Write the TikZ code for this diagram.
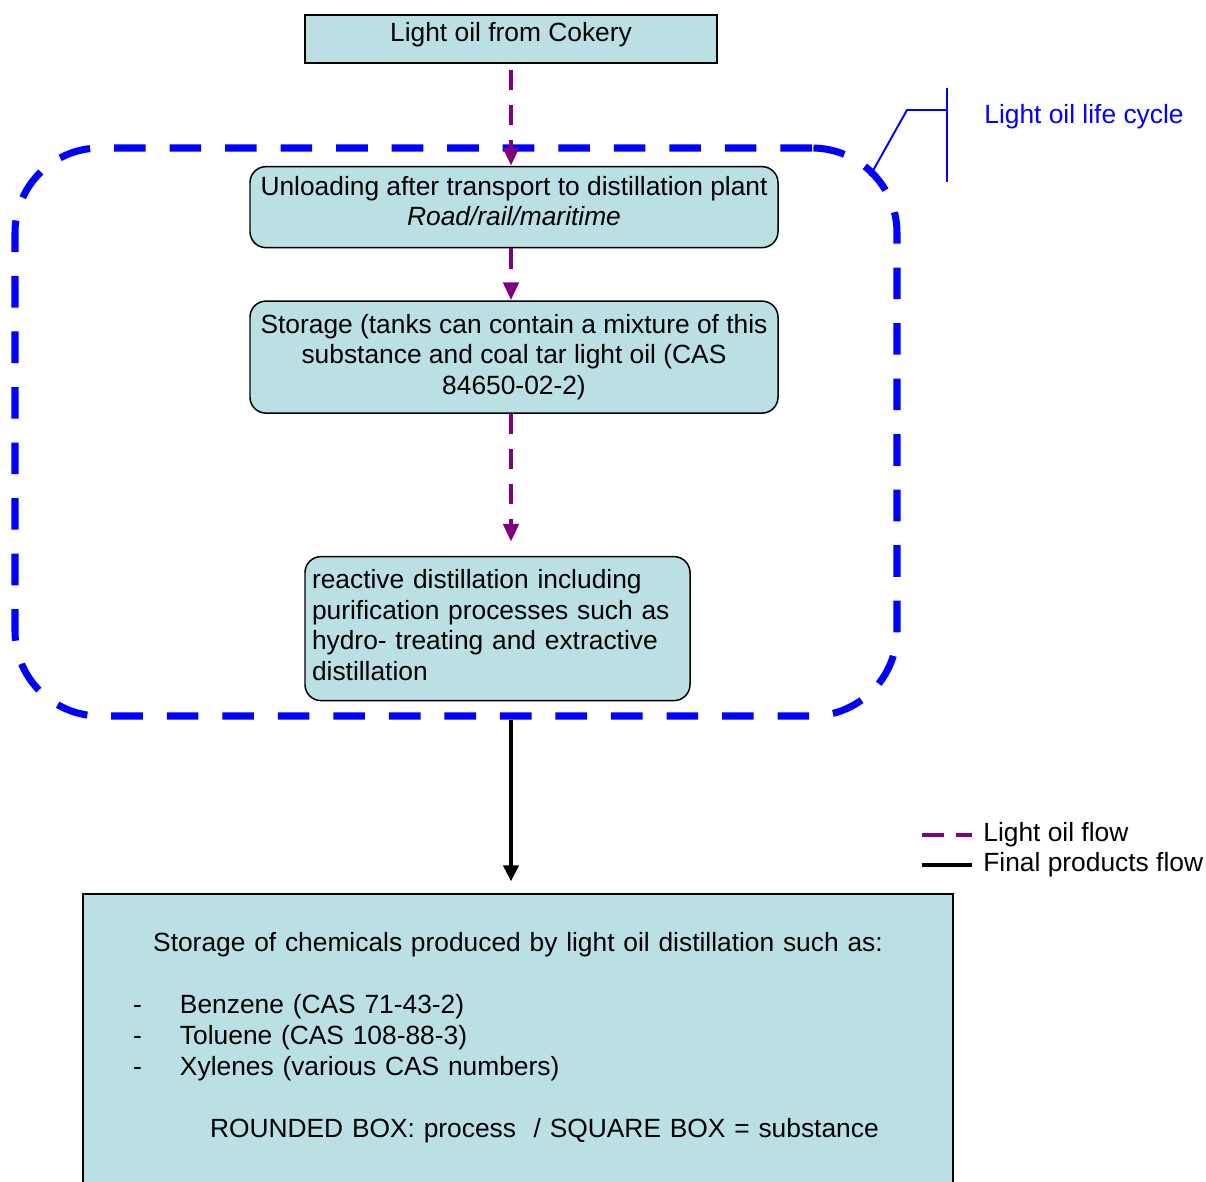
\documentclass[tikz,border=0pt]{standalone}
\usepackage{fontspec}
\setmainfont{Liberation Sans}
\usepackage{xcolor}
\usetikzlibrary{arrows.meta,positioning}

\definecolor{boxfill}{RGB}{186,224,227}
\definecolor{oilflow}{RGB}{128,0,128}
\definecolor{cycleblue}{RGB}{0,0,255}

\begin{document}
\begin{tikzpicture}[
node distance=1cm and 1cm,
every node/.style={font=\fontsize{15}{17.3}\selectfont},
substance/.style={draw, line width=1pt, fill=boxfill, align=center, inner sep=0pt},
process/.style={substance, line width=0.85pt, rounded corners=0.32cm},
lifecycle/.style={draw=cycleblue, line width=4pt, dash pattern=on 18pt off 13.6pt, rounded corners=1.7cm, inner sep=0pt},
oilarr/.style={-{Triangle[length=3.6mm, width=3mm]}, oilflow, line width=2.8pt, dash pattern=on 11.5pt off 8.5pt},
prodarr/.style={-{Triangle[length=3.2mm, width=3mm]}, line width=2.5pt},
callout/.style={cycleblue, line width=1.1pt}
]
\useasboundingbox (0,0) rectangle (24.12,-23.64);
\clip (0,0) rectangle (24.12,-23.64);

% life cycle frame
\node[lifecycle, minimum width=17.64cm, minimum height=11.36cm] (cycle) at (9.12,-8.64) {};

\node[substance, minimum width=8.24cm, minimum height=0.96cm, text depth=0.3cm] (cokery) at (10.22,-0.78) {Light oil from Cokery};
\node[process, below=2.04cm of cokery, xshift=0.06cm, minimum width=10.56cm, minimum height=1.62cm, text depth=7pt] (unload) {Unloading after transport to distillation plant\\\textit{Road/rail/maritime}};
\node[process, below=1.04cm of unload, minimum width=10.56cm, minimum height=2.24cm] (store) {Storage (tanks can contain a mixture of this\\substance and coal tar light oil (CAS\\84650-02-2)};
\node[process, below=2.84cm of store, xshift=-0.33cm, minimum width=7.7cm, minimum height=2.88cm, align=left, text width=7.42cm, text depth=56pt] (distil) {reactive distillation including\\purification processes such as\\hydro- treating and extractive\\distillation};
\node[substance, below=3.84cm of distil, xshift=0.41cm, minimum width=17.4cm, text width=17.4cm, align=left, inner ysep=0.76cm, text depth=5cm, font=\fontsize{15}{17.6}\selectfont] (chem) {\makebox[\linewidth]{Storage of chemicals produced by light oil distillation such as:}\\[0.62cm]
\hspace*{1cm}\makebox[0.94cm][l]{-}Benzene (CAS 71-43-2)\\
\hspace*{1cm}\makebox[0.94cm][l]{-}Toluene (CAS 108-88-3)\\
\hspace*{1cm}\makebox[0.94cm][l]{-}Xylenes (various CAS numbers)\\[0.62cm]
\hspace*{2.54cm}ROUNDED BOX: process\ \ / SQUARE BOX = substance};

\draw[oilarr, shorten <=0.12cm] (cokery.south) -- (cokery.south |- unload.north);
\draw[oilarr] (cokery.south |- unload.south) -- (cokery.south |- store.north);
\draw[oilarr, shorten >=0.28cm] (cokery.south |- store.south) -- (cokery.south |- distil.north);
\draw[prodarr, shorten >=0.24cm] (cokery.south |- cycle.south) -- (cokery.south |- chem.north);

% callout
\coordinate (cycletip) at (17.4,-3.52);
\coordinate (cyclebend) at (18.14,-2.2);
\coordinate (bartop) at (18.94,-1.76);
\coordinate (barbot) at (18.94,-3.64);
\draw[callout] (bartop) -- (barbot);
\draw[callout] (cycletip) -- (cyclebend) -- (cyclebend -| bartop);
\node[anchor=west, inner sep=0pt, text=cycleblue] (cyclelabel) at (19.68,-2.34) {Light oil life cycle};

% legend
\node[anchor=west, inner sep=0pt] (oillegend) at (19.66,-16.7) {Light oil flow};
\node[anchor=west, inner sep=0pt] (prodlegend) at (19.66,-17.3) {Final products flow};
\draw[oilflow, line width=2.3pt, dash pattern=on 12.5pt off 6.8pt] ([xshift=-1.22cm]oillegend.west) -- ([xshift=-0.22cm]oillegend.west);
\draw[line width=2.3pt] ([xshift=-1.22cm]prodlegend.west) -- ([xshift=-0.22cm]prodlegend.west);
\end{tikzpicture}
\end{document}
